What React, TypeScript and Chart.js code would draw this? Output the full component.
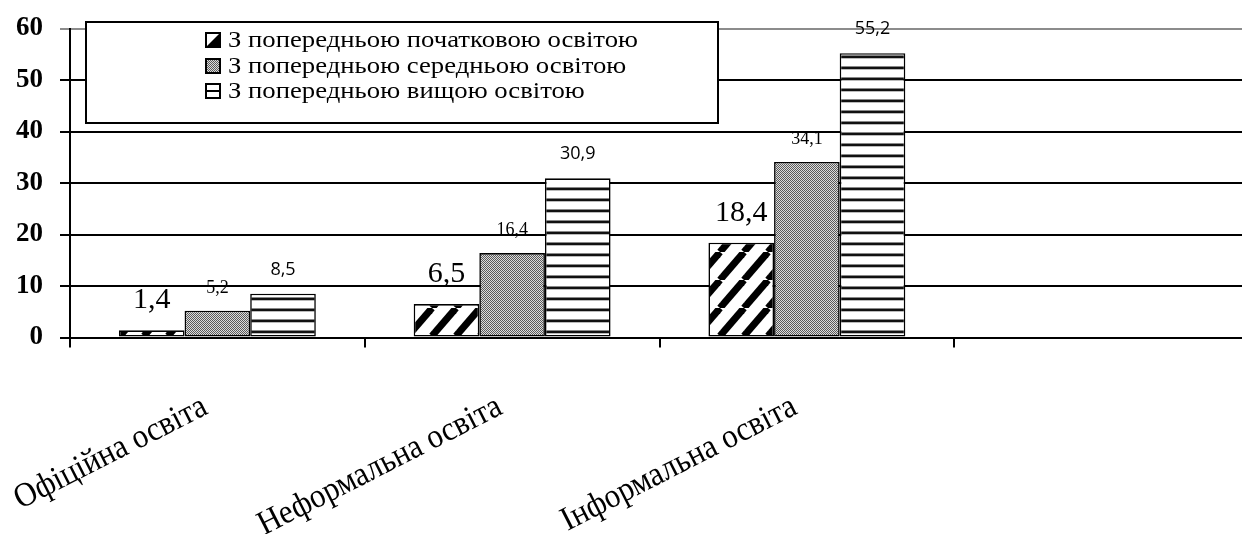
import React, { useEffect, useRef } from "react";
import { Chart, registerables } from "chart.js";

Chart.register(...registerables);

const categories = ["Офіційна освіта", "Неформальна освіта", "Інформальна освіта", ""];
const seriesNames = [
  "З попередньою початковою освітою",
  "З попередньою середньою освітою",
  "З попередньою вищою освітою",
];
const primaryValues = [1.4, 6.5, 18.4, null];
const secondaryValues = [5.2, 16.4, 34.1, null];
const higherValues = [8.5, 30.9, 55.2, null];
const yMin = 0;
const yMax = 60;
const yStep = 10;

function makeDiagonal(): CanvasPattern {
  const w = 24, h = 28;
  const c = document.createElement("canvas");
  c.width = w; c.height = h;
  const g = c.getContext("2d")!;
  g.fillStyle = "#fff";
  g.fillRect(0, 0, w, h);
  g.strokeStyle = "#000";
  g.lineWidth = 7;
  for (let k = -1; k <= 1; k++) {
    g.beginPath();
    g.moveTo(k * w, h);
    g.lineTo(k * w + w, 0);
    g.stroke();
  }
  return g.createPattern(c, "repeat")!;
}

function makeChecker(): CanvasPattern {
  const c = document.createElement("canvas");
  c.width = 2; c.height = 2;
  const g = c.getContext("2d")!;
  g.fillStyle = "#dcdcdc";
  g.fillRect(0, 0, 2, 2);
  g.fillStyle = "#5a5a5a";
  g.fillRect(0, 0, 1, 1);
  g.fillRect(1, 1, 1, 1);
  return g.createPattern(c, "repeat")!;
}

function makeHorizontal(): CanvasPattern {
  const c = document.createElement("canvas");
  c.width = 4; c.height = 11;
  const g = c.getContext("2d")!;
  g.fillStyle = "#fff";
  g.fillRect(0, 0, 4, 11);
  g.fillStyle = "#888";
  g.fillRect(0, 0, 4, 1);
  g.fillStyle = "#111";
  g.fillRect(0, 1, 4, 2);
  g.fillStyle = "#bbb";
  g.fillRect(0, 3, 4, 1);
  return g.createPattern(c, "repeat")!;
}

const fmt = (v: number) => v.toFixed(1).replace(".", ",");

export default function App() {
  const ref = useRef<HTMLCanvasElement | null>(null);

  useEffect(() => {
    const canvas = ref.current!;
    const diag = makeDiagonal();
    const checker = makeChecker();
    const horiz = makeHorizontal();
    const patterns = [diag, checker, horiz];

    const labelStyles = [
      { font: "30px 'Liberation Serif'", off: 22 },
      { font: "18px 'Liberation Serif'", off: 18 },
      { font: "18px 'Open Sans'", off: 19 },
    ];

    const overlay = {
      id: "overlay",
      afterDatasetsDraw(chart: any) {
        const ctx = chart.ctx as CanvasRenderingContext2D;
        ctx.save();
        ctx.fillStyle = "#000";
        ctx.textAlign = "center";
        ctx.textBaseline = "alphabetic";
        chart.data.datasets.forEach((ds: any, di: number) => {
          const meta = chart.getDatasetMeta(di);
          ctx.font = labelStyles[di].font;
          meta.data.forEach((el: any, i: number) => {
            const v = ds.data[i];
            if (v === null || v === undefined) return;
            ctx.fillText(fmt(v), el.x, el.y - labelStyles[di].off);
          });
        });
        ctx.restore();
      },
      afterDraw(chart: any) {
        const ctx = chart.ctx as CanvasRenderingContext2D;
        // x labels
        const xs = chart.scales.x;
        ctx.save();
        ctx.fillStyle = "#000";
        ctx.font = "34px 'Liberation Serif'";
        const baseW = ctx.measureText(categories[0]).width;
        const sx = 212 / baseW;
        const ang = (-27 * Math.PI) / 180;
        categories.forEach((lab, i) => {
          if (!lab) return;
          const ax = xs.getPixelForValue(i) - 8;
          const ay = 413;
          ctx.save();
          ctx.translate(ax, ay);
          ctx.rotate(ang);
          ctx.scale(sx, 1);
          ctx.textAlign = "right";
          ctx.textBaseline = "alphabetic";
          ctx.fillText(lab, 0, 0);
          ctx.restore();
        });
        ctx.restore();

        // legend
        ctx.save();
        const bx = 86, by = 22, bw = 632, bh = 101;
        ctx.fillStyle = "#fff";
        ctx.fillRect(bx, by, bw, bh);
        ctx.strokeStyle = "#000";
        ctx.lineWidth = 2;
        ctx.strokeRect(bx, by, bw, bh);
        ctx.font = "23px 'Liberation Serif'";
        const lw = ctx.measureText(seriesNames[0]).width;
        const lsx = 410 / lw;
        const baselines = [47, 73, 98];
        seriesNames.forEach((name, i) => {
          const cy = baselines[i] - 7;
          const ix = 206, iy = cy - 7, is = 14;
          ctx.fillStyle = "#fff";
          ctx.fillRect(ix, iy, is, is);
          if (i === 0) {
            ctx.fillStyle = "#000";
            ctx.beginPath();
            ctx.moveTo(ix + is, iy);
            ctx.lineTo(ix + is, iy + is);
            ctx.lineTo(ix, iy + is);
            ctx.closePath();
            ctx.fill();
          } else if (i === 1) {
            ctx.fillStyle = patterns[1];
            ctx.fillRect(ix, iy, is, is);
          } else {
            ctx.fillStyle = "#000";
            ctx.fillRect(ix, iy + is / 2 - 1, is, 2);
          }
          ctx.strokeStyle = "#000";
          ctx.lineWidth = 2;
          ctx.strokeRect(ix, iy, is, is);
          ctx.save();
          ctx.translate(228, baselines[i]);
          ctx.scale(lsx, 1);
          ctx.fillStyle = "#000";
          ctx.textAlign = "left";
          ctx.textBaseline = "alphabetic";
          ctx.fillText(name, 0, 0);
          ctx.restore();
        });
        ctx.restore();
      },
    };

    const chart = new Chart(canvas, {
      type: "bar",
      data: {
        labels: categories,
        datasets: [
          { label: seriesNames[0], data: primaryValues, backgroundColor: diag },
          { label: seriesNames[1], data: secondaryValues, backgroundColor: checker },
          { label: seriesNames[2], data: higherValues, backgroundColor: horiz },
        ].map((d) => ({
          ...d,
          borderColor: "#000",
          borderWidth: 1.6,
          borderSkipped: false,
          categoryPercentage: 0.668,
          barPercentage: 1,
        })) as any,
      },
      options: {
        responsive: false,
        animation: false,
        devicePixelRatio: 1,
        layout: { padding: { top: 28.5, left: 0, right: 1, bottom: 0 } },
        plugins: { legend: { display: false }, tooltip: { enabled: false } },
        scales: {
          x: {
            offset: true,
            grid: {
              display: true,
              drawOnChartArea: false,
              drawTicks: true,
              tickLength: 10,
              color: "#000",
              lineWidth: 2,
              offset: true,
            },
            border: { display: true, color: "#000", width: 2 },
            ticks: { display: false },
            afterFit: (s: any) => {
              s.height = 196.5;
              s.paddingLeft = 0;
              s.paddingRight = 0;
            },
          },
          y: {
            min: yMin,
            max: yMax,
            ticks: {
              stepSize: yStep,
              color: "#000",
              padding: 17,
              font: { family: "'Liberation Serif'", size: 27, weight: "bold", lineHeight: 0.8 },
            },
            grid: {
              color: (c: any) => (c.tick && c.tick.value === yMax ? "#8c8c8c" : "#000"),
              lineWidth: 2,
              tickLength: 10,
            },
            border: { display: true, color: "#000", width: 2 },
            afterFit: (s: any) => {
              s.width = 70;
              s.paddingTop = 0;
              s.paddingBottom = 0;
            },
          },
        },
      } as any,
      plugins: [overlay],
    });
    return () => chart.destroy();
  }, []);

  return (
    <div
      style={{
        position: "absolute",
        left: 0,
        top: 0,
        width: 1242,
        height: 534,
        overflow: "hidden",
        background: "#fff",
      }}
    >
      <canvas ref={ref} width={1250} height={534} style={{ display: "block" }} />
    </div>
  );
}
